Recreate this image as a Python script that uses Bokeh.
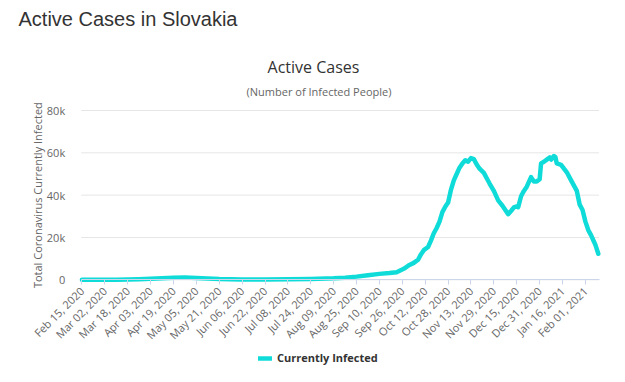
import math
import pandas as pd
from bokeh.plotting import figure
from bokeh.models import (FixedTicker, DatetimeTickFormatter, Legend, LegendItem, Label,
                          ColumnDataSource, Range1d)
from bokeh.embed import file_html
from bokeh.resources import INLINE

dates = [
    "2020-02-15", "2020-03-02", "2020-03-10", "2020-03-18", "2020-03-26", "2020-04-03",
    "2020-04-11", "2020-04-19", "2020-04-27", "2020-05-05", "2020-05-13", "2020-05-21",
    "2020-06-06", "2020-06-22", "2020-07-08", "2020-07-24", "2020-08-09", "2020-08-17",
    "2020-08-25", "2020-09-02", "2020-09-10", "2020-09-17", "2020-09-22", "2020-09-27",
    "2020-10-01", "2020-10-04", "2020-10-07", "2020-10-09", "2020-10-11", "2020-10-14",
    "2020-10-16", "2020-10-18", "2020-10-20", "2020-10-22", "2020-10-24", "2020-10-26",
    "2020-10-28", "2020-10-30", "2020-11-01", "2020-11-03", "2020-11-05", "2020-11-07",
    "2020-11-09", "2020-11-11", "2020-11-13", "2020-11-15", "2020-11-17", "2020-11-19",
    "2020-11-22", "2020-11-24", "2020-11-26", "2020-11-29", "2020-12-02", "2020-12-05",
    "2020-12-07", "2020-12-09", "2020-12-11", "2020-12-13", "2020-12-15", "2020-12-16",
    "2020-12-18", "2020-12-20", "2020-12-22", "2020-12-25", "2020-12-27", "2020-12-29",
    "2020-12-31", "2021-01-01", "2021-01-03", "2021-01-05", "2021-01-07", "2021-01-08",
    "2021-01-10", "2021-01-11", "2021-01-12", "2021-01-15", "2021-01-19", "2021-01-22",
    "2021-01-26", "2021-01-28", "2021-01-30", "2021-02-01", "2021-02-03", "2021-02-05",
    "2021-02-07", "2021-02-08", "2021-02-10",
]
active = [
    0, 0, 5, 95, 280, 480,
    780, 1000, 1080, 880, 600, 350,
    160, 140, 230, 380, 700, 1000,
    1500, 2200, 2800, 3200, 3600, 5200,
    7000, 8000, 9500, 12000, 14000, 15500,
    18500, 22000, 24500, 27500, 32000, 34500,
    36500, 42500, 47000, 50000, 53000, 55000,
    56500, 55800, 57500, 57000, 54500, 52500,
    50500, 48000, 45500, 42000, 37500, 35000,
    33000, 31000, 32500, 34200, 34700, 34300,
    39500, 42000, 44000, 48500, 46500, 46500,
    47500, 55000, 55800, 56800, 57800, 56800,
    58500, 58000, 55000, 54300, 50800, 47000,
    42000, 35500, 33000, 27500, 23500, 21000,
    18000, 16500, 12300,
]
tick_dates = [
    "2020-02-15", "2020-03-02", "2020-03-18", "2020-04-03", "2020-04-19", "2020-05-05",
    "2020-05-21", "2020-06-06", "2020-06-22", "2020-07-08", "2020-07-24", "2020-08-09",
    "2020-08-25", "2020-09-10", "2020-09-26", "2020-10-12", "2020-10-28", "2020-11-13",
    "2020-11-29", "2020-12-15", "2020-12-31", "2021-01-16", "2021-02-01",
]
y_ticks = [0, 20000, 40000, 60000, 80000]
y_tick_labels = ["0", "20k", "40k", "60k", "80k"]

page_title = "Active Cases in Slovakia"
chart_title = "Active Cases"
chart_subtitle = "(Number of Infected People)"
y_label = "Total Coronavirus Currently Infected"
series_name = "Currently Infected"

LINE = "#0fdcd8"
GREY = "#666666"
DARK = "#333333"

# ---- layout constants (pixels inside the canvas) ----
W, H = 617, 374
PL, PR = 80.7, 598.5      # plotting-area left / right
PT, PB = 110.0, 279.3     # plotting-area top (80k) / bottom (0)

DAY = 86400000
x_start = pd.Timestamp(dates[0]).value // 10**6 - DAY // 2
x_end = pd.Timestamp(dates[-1]).value // 10**6 + DAY // 2
ppx = (PR - PL) / (x_end - x_start)
y_top = max(y_ticks)
ppy = (PB - PT) / y_top

xr = Range1d(x_start - PL / ppx, x_end + (W - PR) / ppx)
yr = Range1d(-(H - PB) / ppy, y_top + PT / ppy)

src = ColumnDataSource(dict(x=pd.to_datetime(dates), y=active))

p = figure(frame_width=W, frame_height=H, x_axis_type="datetime",
           output_backend="svg", toolbar_location=None, title=None,
           x_range=xr, y_range=yr,
           min_border_left=0, min_border_right=0, min_border_top=0, min_border_bottom=0)
p.outline_line_color = None
p.background_fill_color = "white"
p.xgrid.grid_line_color = None
p.ygrid.grid_line_color = None

# horizontal grid lines across the plotting area only
p.segment(x0=[x_start] * len(y_ticks), x1=[x_end] * len(y_ticks), y0=y_ticks, y1=y_ticks,
          line_color="#e6e6e6", line_width=1)

r = p.line("x", "y", source=src, line_color=LINE, line_width=4.5, line_cap="round",
           line_join="round")

# y axis pinned at the left edge of the plotting area
p.yaxis.fixed_location = x_start
p.yaxis.ticker = FixedTicker(ticks=y_ticks)
p.yaxis.major_label_overrides = {t: l for t, l in zip(y_ticks, y_tick_labels)}
p.yaxis.axis_line_color = None
p.yaxis.major_tick_line_color = None
p.yaxis.minor_tick_line_color = None
p.yaxis.major_label_text_color = GREY
p.yaxis.major_label_text_font = "Open Sans"
p.yaxis.major_label_text_font_size = "11px"
p.yaxis.major_label_standoff = 10

# x axis pinned at y = 0
tick_ms = [pd.Timestamp(d).value // 10**6 for d in tick_dates]
p.xaxis.fixed_location = 0
p.xaxis.bounds = (x_start, x_end)
p.xaxis.ticker = FixedTicker(ticks=tick_ms)
fmt = "%b %d, %Y"
p.xaxis.formatter = DatetimeTickFormatter(milliseconds=fmt, seconds=fmt, minsec=fmt, minutes=fmt,
                                          hourmin=fmt, hours=fmt, days=fmt, months=fmt, years=fmt)
p.xaxis.major_label_orientation = math.pi / 4
p.xaxis.axis_line_color = "#ccd6eb"
p.xaxis.major_tick_line_color = "#ccd6eb"
p.xaxis.major_tick_in = 0
p.xaxis.major_tick_out = 5
p.xaxis.minor_tick_line_color = None
p.xaxis.major_label_text_color = GREY
p.xaxis.major_label_text_font = "Open Sans"
p.xaxis.major_label_text_font_size = "11px"
p.xaxis.major_label_standoff = 4

# texts
p.add_layout(Label(x=x_start, y=y_top / 2, x_offset=-44, text=y_label, angle=math.pi / 2,
                   text_align="center", text_baseline="middle", text_font="Open Sans",
                   text_font_size="11px", text_color=GREY))
p.add_layout(Label(x=x_start, y=y_top, x_offset=-62.7, y_offset=92, text=page_title,
                   text_align="left", text_baseline="alphabetic", text_font="Liberation Sans",
                   text_font_size="20px", text_color=DARK))
p.add_layout(Label(x=x_start, y=y_top, x_offset=232.3, y_offset=44, text=chart_title,
                   text_align="center", text_baseline="middle", text_font="Open Sans",
                   text_font_size="16px", text_color=DARK))
p.add_layout(Label(x=x_start, y=y_top, x_offset=237.8, y_offset=19, text=chart_subtitle,
                   text_align="center", text_baseline="middle", text_font="Open Sans",
                   text_font_size="11px", text_color=GREY))

legend = Legend(items=[LegendItem(label=series_name, renderers=[r])],
                orientation="horizontal", location=(258, 9), border_line_alpha=0,
                background_fill_alpha=0, padding=0, margin=0, glyph_width=14, glyph_height=12,
                label_standoff=5, label_text_font="Open Sans", label_text_font_size="11px",
                label_text_font_style="bold", label_text_color=DARK)
p.add_layout(legend, "center")

open("out.html", "w").write(file_html(p, INLINE))
